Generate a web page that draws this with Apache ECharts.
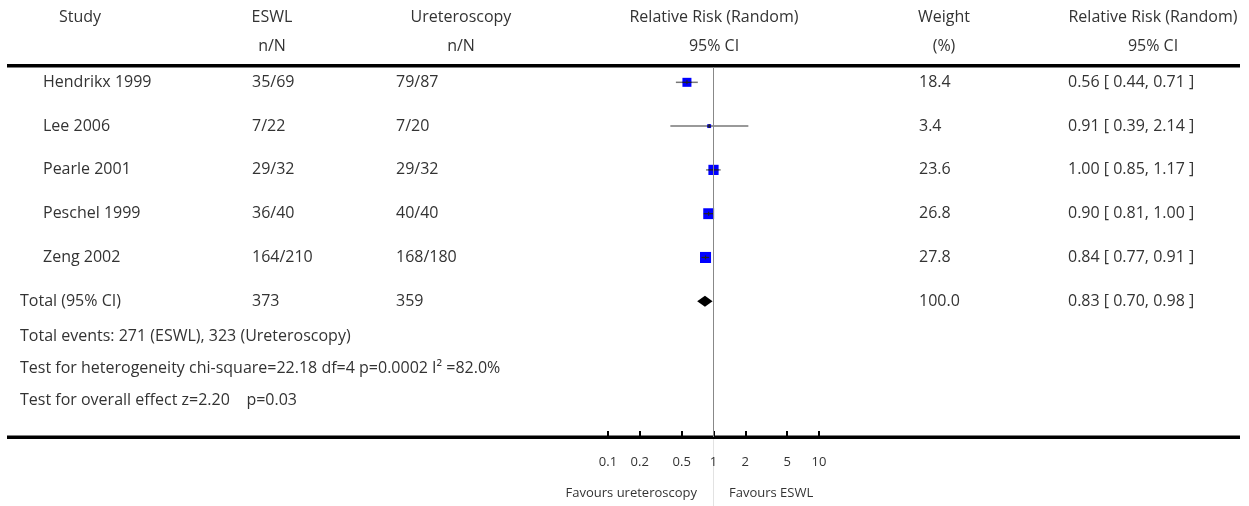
<!DOCTYPE html>
<html>
<head>
<meta charset="utf-8">
<script src="https://cdn.jsdelivr.net/npm/echarts@6/dist/echarts.min.js"></script>
<style>
  html, body { margin: 0; padding: 0; background: #fff; }
  #chart { width: 1249px; height: 506px; }
</style>
</head>
<body>
<div id="chart"></div>
<script>
// study rows
const studies = ["Hendrikx 1999", "Lee 2006", "Pearle 2001", "Peschel 1999", "Zeng 2002"];
const eswlEvents = ["35/69", "7/22", "29/32", "36/40", "164/210"];
const ureteroEvents = ["79/87", "7/20", "29/32", "40/40", "168/180"];
const weights = [18.4, 3.4, 23.6, 26.8, 27.8];
const rr = [0.56, 0.91, 1.00, 0.90, 0.84];
const ciLow = [0.44, 0.39, 0.85, 0.81, 0.77];
const ciHigh = [0.71, 2.14, 1.17, 1.00, 0.91];

// pooled result
const totalLabel = "Total (95% CI)";
const totalEswl = "373";
const totalUretero = "359";
const totalWeight = 100.0;
const totalRR = 0.83;
const totalLow = 0.70;
const totalHigh = 0.98;

const footNotes = [
  "Total events: 271 (ESWL), 323 (Ureteroscopy)",
  "Test for heterogeneity chi-square=22.18 df=4 p=0.0002 I\u00b2 =82.0%",
  "Test for overall effect z=2.20    p=0.03"
];

const tickValues = [0.1, 0.2, 0.5, 1, 2, 5, 10];

const FAMILY = '"Open Sans", Lato, sans-serif';
const FONT = "16px " + FAMILY;
const SMALL = "13px " + FAMILY;
const TXT = "#333";
const ciText = (r, l, h) => r.toFixed(2) + " [ " + l.toFixed(2) + ", " + h.toFixed(2) + " ]";

// column x positions (left edges of row text)
const colStudy = 43, colEswl = 252, colUret = 396, colWeight = 919, colCI = 1068;

const chart = echarts.init(document.getElementById("chart"));

const rowText = (x, y, text) => ({
  type: "text",
  style: { x: x, y: y, text: text, fill: TXT, font: FONT, align: "left", verticalAlign: "middle" }
});

const studyData = studies.map((s, i) => [rr[i], i, ciLow[i], ciHigh[i], weights[i]]);

function renderStudy(params, api) {
  const i = params.dataIndex;
  const c = api.coord([api.value(0), api.value(1)]);
  const l = api.coord([api.value(2), api.value(1)]);
  const h = api.coord([api.value(3), api.value(1)]);
  const s = 2.1 * Math.sqrt(api.value(4));
  const y = c[1];
  return {
    type: "group",
    children: [
      { type: "line", shape: { x1: l[0], y1: y, x2: h[0], y2: y }, style: { stroke: "#777", lineWidth: 1.5 } },
      { type: "rect", shape: { x: c[0] - s / 2, y: y - s / 2, width: s, height: s }, style: { fill: "#0000ff" } },
      { type: "line", shape: { x1: Math.max(l[0], c[0] - s / 2), y1: y, x2: Math.min(h[0], c[0] + s / 2), y2: y }, style: { stroke: "#222", lineWidth: 1.2 } },
      { type: "line", shape: { x1: c[0], y1: y - 2, x2: c[0], y2: y + 2 }, style: { stroke: "#222", lineWidth: 1.2 } },
      rowText(colStudy, y, studies[i]),
      rowText(colEswl, y, eswlEvents[i]),
      rowText(colUret, y, ureteroEvents[i]),
      rowText(colWeight, y, weights[i].toFixed(1)),
      rowText(colCI, y, ciText(rr[i], ciLow[i], ciHigh[i]))
    ]
  };
}

function renderTotal(params, api) {
  const row = api.value(1);
  const c = api.coord([api.value(0), row]);
  const l = api.coord([api.value(2), row]);
  const h = api.coord([api.value(3), row]);
  const y = c[1];
  return {
    type: "group",
    children: [
      { type: "polygon", shape: { points: [[l[0], y], [c[0], y - 5.5], [h[0], y], [c[0], y + 5.5]] }, style: { fill: "#000" } },
      rowText(20, y, totalLabel),
      rowText(colEswl, y, totalEswl),
      rowText(colUret, y, totalUretero),
      rowText(colWeight, y, totalWeight.toFixed(1)),
      rowText(colCI, y, ciText(totalRR, totalLow, totalHigh))
    ]
  };
}

const headText = (x, y, text) => ({
  type: "text", x: x, y: y,
  style: { text: text, fill: TXT, font: FONT, align: "center", verticalAlign: "middle" },
  silent: true
});
const footText = (x, y, text) => ({
  type: "text", x: x, y: y,
  style: { text: text, fill: TXT, font: FONT, align: "left", verticalAlign: "middle" },
  silent: true
});

const option = {
  animation: false,
  backgroundColor: "#fff",
  grid: { left: 608, width: 211, top: 67, height: 370 },
  xAxis: {
    type: "log",
    logBase: 10,
    min: 0.1,
    max: 10,
    axisLine: { show: false, onZero: false },
    splitLine: { show: false },
    axisTick: { inside: true, length: 6, lineStyle: { color: "#000", width: 2 }, customValues: tickValues },
    axisLabel: {
      margin: 19,
      color: TXT,
      fontFamily: FAMILY,
      fontSize: 13,
      customValues: tickValues,
      formatter: v => String(v)
    }
  },
  yAxis: {
    type: "value",
    inverse: true,
    min: -0.35,
    max: 8.1,
    show: false
  },
  series: [
    {
      type: "custom",
      renderItem: renderStudy,
      encode: { x: [0, 2, 3], y: 1 },
      data: studyData,
      clip: false,
      markLine: {
        silent: true,
        symbol: "none",
        label: { show: false },
        lineStyle: { color: "#888", width: 1, type: "solid" },
        data: [{ xAxis: 1 }]
      }
    },
    {
      type: "custom",
      renderItem: renderTotal,
      encode: { x: [0, 2, 3], y: 1 },
      data: [[totalRR, studies.length, totalLow, totalHigh]],
      clip: false
    }
  ],
  graphic: [
    headText(80, 17, "Study"),
    headText(272, 17, "ESWL"),
    headText(272, 46, "n/N"),
    headText(461, 17, "Ureteroscopy"),
    headText(461, 46, "n/N"),
    headText(714, 17, "Relative Risk (Random)"),
    headText(714, 46, "95% CI"),
    headText(944, 17, "Weight"),
    headText(944, 46, "(%)"),
    headText(1153, 17, "Relative Risk (Random)"),
    headText(1153, 46, "95% CI"),
    { type: "rect", shape: { x: 7, y: 64, width: 1233, height: 3.5 }, style: { fill: "#000" }, silent: true },
    { type: "rect", shape: { x: 7, y: 435.5, width: 1233, height: 3.5 }, style: { fill: "#000" }, silent: true },
    { type: "line", shape: { x1: 713.5, y1: 439, x2: 713.5, y2: 506 }, style: { stroke: "#e2e2e2", lineWidth: 1 }, silent: true },
    footText(20, 336, footNotes[0]),
    footText(20, 368, footNotes[1]),
    footText(20, 400, footNotes[2]),
    {
      type: "text", x: 697, y: 493, silent: true,
      style: { text: "Favours ureteroscopy", fill: TXT, font: SMALL, align: "right", verticalAlign: "middle" }
    },
    {
      type: "text", x: 729, y: 493, silent: true,
      style: { text: "Favours ESWL", fill: TXT, font: SMALL, align: "left", verticalAlign: "middle" }
    }
  ]
};

chart.setOption(option);
</script>
</body>
</html>
